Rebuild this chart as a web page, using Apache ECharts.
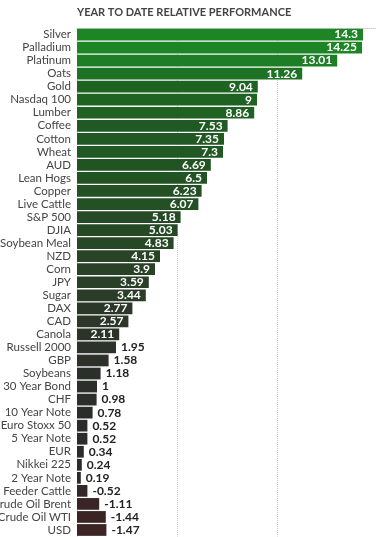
<!DOCTYPE html>
<html>
<head>
<meta charset="utf-8">
<script src="https://cdn.jsdelivr.net/npm/echarts@6/dist/echarts.min.js"></script>
<style>html,body{margin:0;padding:0;background:#fff;}#c{width:376px;height:537px;}</style>
</head>
<body>
<div id="c"></div>
<script>
const categories = ["Silver","Palladium","Platinum","Oats","Gold","Nasdaq 100","Lumber","Coffee","Cotton","Wheat","AUD","Lean Hogs","Copper","Live Cattle","S&P 500","DJIA","Soybean Meal","NZD","Corn","JPY","Sugar","DAX","CAD","Canola","Russell 2000","GBP","Soybeans","30 Year Bond","CHF","10 Year Note","Euro Stoxx 50","5 Year Note","EUR","Nikkei 225","2 Year Note","Feeder Cattle","Crude Oil Brent","Crude Oil WTI","USD"];
const values = [14.3,14.25,13.01,11.26,9.04,9,8.86,7.53,7.35,7.3,6.69,6.5,6.23,6.07,5.18,5.03,4.83,4.15,3.9,3.59,3.44,2.77,2.57,2.11,1.95,1.58,1.18,1,0.98,0.78,0.52,0.52,0.34,0.24,0.19,-0.52,-1.11,-1.44,-1.47];
const axisTicks = [0,5,10,15];
const titleText = "YEAR TO DATE RELATIVE PERFORMANCE";

const FONT = 'Lato, "Open Sans", sans-serif';
const data = categories.map((c, i) => {
  const v = values[i];
  const inside = Math.abs(v) >= 2;
  return {
    value: [Math.abs(v), c, v],
    label: inside
      ? { position: 'insideRight', distance: 5, color: '#fff' }
      : { position: 'right', distance: 5, color: '#222' }
  };
});

const chart = echarts.init(document.getElementById('c'), null, {renderer: 'canvas'});
chart.setOption({
  animation: false,
  backgroundColor: '#fff',
  title: {
    text: titleText, left: 77, top: 7, padding: 0,
    textStyle: {fontFamily: FONT, fontSize: 11, fontWeight: 'bold', color: '#444'}
  },
  grid: {left: 77, top: 28, width: 300, height: 508.5, containLabel: false, outerBoundsMode: 'none'},
  visualMap: {
    show: false, type: 'continuous', dimension: 2, seriesIndex: 0,
    min: -1.5, max: 14.3,
    inRange: {color: ['#3c2424','#2b2b2b','#2c3629','#284526','#225223','#1f5f23','#1e6c24','#1e7a25','#1e8526']}
  },
  xAxis: {
    type: 'value', position: 'top', min: axisTicks[0], max: axisTicks[axisTicks.length-1], interval: 5,
    axisLabel: {show: false}, axisTick: {show: false},
    axisLine: {show: true, lineStyle: {color: '#ccc', type: 'dotted'}},
    splitLine: {show: true, lineStyle: {color: '#ccc', type: 'dotted'}}
  },
  yAxis: {
    type: 'category', data: categories, inverse: true,
    axisLine: {show: false}, axisTick: {show: false},
    axisLabel: {fontFamily: FONT, fontSize: 11.5, color: '#444', margin: 6, interval: 0}
  },
  series: [{
    type: 'bar',
    encode: {x: 0, y: 1},
    data: data,
    barCategoryGap: '10%',
    label: {
      show: true, fontFamily: FONT, fontSize: 12, fontWeight: 'bold',
      formatter: p => String(p.value[2])
    }
  }]
});
</script>
</body>
</html>
